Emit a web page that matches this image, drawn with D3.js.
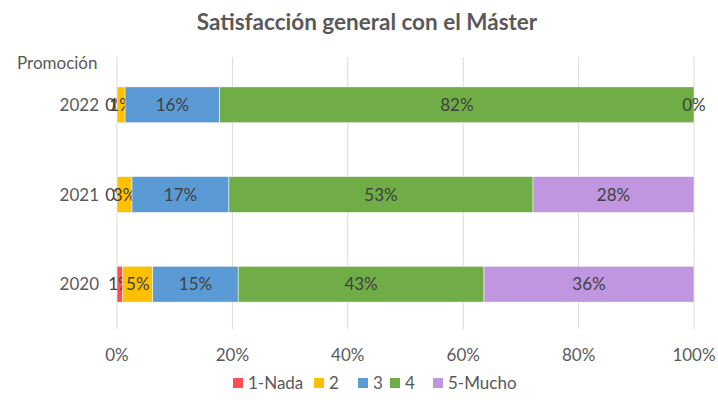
<!DOCTYPE html>
<html>
<head>
<meta charset="utf-8">
<script src="https://cdn.jsdelivr.net/npm/d3@7"></script>
<style>
  body { margin: 0; background: #fff; }
  text { font-family: Lato, "Open Sans", sans-serif; }
</style>
</head>
<body>
<div id="chart"></div>
<script>
// data (percentages)
const years = ["2022", "2021", "2020"];
const keys = ["1-Nada", "2", "3", "4", "5-Mucho"];
const nada   = [0,   0,    1.0];
const dos    = [1.4, 2.6,  5.2];
const tres   = [16.4, 16.8, 14.8];
const cuatro = [82.2, 52.7, 42.6];
const mucho  = [0,   27.9, 36.4];
const xTicks = [0, 20, 40, 60, 80, 100];

const colors = ["#FF4F4F", "#FFC000", "#5B9BD5", "#70AD47", "#BF96DF"];

const rows = years.map((y, i) => ({
  year: y, "1-Nada": nada[i], "2": dos[i], "3": tres[i], "4": cuatro[i], "5-Mucho": mucho[i]
}));

const W = 718, H = 400;
const fs = "17px";
const svg = d3.select("#chart").append("svg")
  .attr("width", W).attr("height", H);

const x = d3.scaleLinear().domain([0, 100]).range([117, 694]);
const y = d3.scaleBand().domain(years).range([60, 329]).paddingInner(0.6).paddingOuter(0.3);
const color = d3.scaleOrdinal().domain(keys).range(colors);

// title
svg.append("text")
  .attr("x", 367).attr("y", 30)
  .attr("text-anchor", "middle")
  .style("font-size", "22.5px").style("font-weight", "bold")
  .attr("fill", "#595959")
  .text("Satisfacción general con el Máster");

// gridlines
svg.append("g").selectAll("line")
  .data(xTicks).join("line")
  .attr("x1", d => x(d)).attr("x2", d => x(d))
  .attr("y1", 57).attr("y2", 329)
  .attr("stroke", "#d9d9d9").attr("stroke-width", 1);

// x tick labels
svg.append("g").selectAll("text")
  .data(xTicks).join("text")
  .attr("x", d => x(d)).attr("y", 361)
  .attr("text-anchor", "middle")
  .style("font-size", fs).attr("fill", "#595959")
  .text(d => d + "%");

// y labels
svg.append("g").selectAll("text")
  .data(years).join("text")
  .attr("x", 99).attr("y", d => y(d) + y.bandwidth() / 2 + 6)
  .attr("text-anchor", "end")
  .style("font-size", fs).attr("fill", "#595959")
  .text(d => d);

svg.append("text")
  .attr("x", 17).attr("y", 69)
  .style("font-size", fs).attr("fill", "#595959")
  .text("Promoción");

// stacked bars
const stacked = d3.stack().keys(keys)(rows);

const layers = svg.append("g").selectAll("g")
  .data(stacked).join("g")
  .attr("fill", d => color(d.key));

layers.selectAll("rect")
  .data(d => d).join("rect")
  .attr("x", d => x(d[0]))
  .attr("y", d => y(d.data.year))
  .attr("width", d => x(d[1]) - x(d[0]))
  .attr("height", y.bandwidth())
  .attr("stroke", "#fff").attr("stroke-width", 0.5);

// labels in bars
layers.selectAll("text")
  .data(d => d.map(v => ({ v: v, key: d.key }))).join("text")
  .attr("x", d => (x(d.v[0]) + x(d.v[1])) / 2)
  .attr("y", d => y(d.v.data.year) + y.bandwidth() / 2 + 6)
  .attr("text-anchor", "middle")
  .style("font-size", fs).attr("fill", "#404040")
  .text(d => Math.round(d.v.data[d.key]) + "%");

// legend
const legX = [233, 314, 358, 390, 433];
const leg = svg.append("g").selectAll("g")
  .data(keys).join("g")
  .attr("transform", (d, i) => `translate(${legX[i]},378)`);
leg.append("rect").attr("width", 10).attr("height", 10).attr("fill", d => color(d));
leg.append("text").attr("x", 15).attr("y", 11)
  .style("font-size", fs).attr("fill", "#595959")
  .text(d => d);
</script>
</body>
</html>
